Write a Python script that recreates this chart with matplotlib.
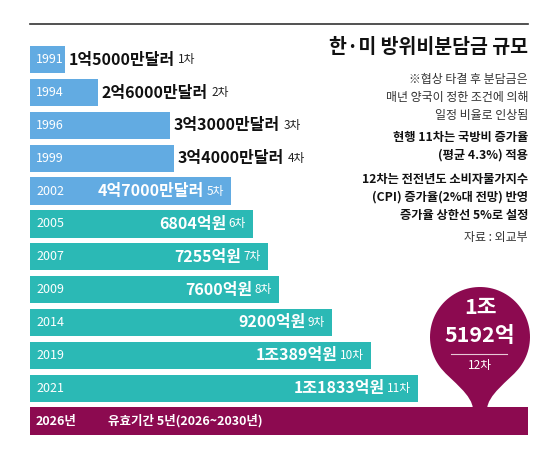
import numpy as np
import matplotlib.pyplot as plt
from matplotlib.path import Path
from matplotlib.patches import PathPatch

plt.rcParams['font.family'] = ['Noto Sans CJK KR', 'DejaVu Sans']

### data
years = ['1991', '1994', '1996', '1999', '2002', '2005', '2007', '2009',
         '2014', '2019', '2021', '2026년']
amounts = ['1억5000만달러', '2억6000만달러', '3억3000만달러', '3억4000만달러',
           '4억7000만달러', '6804억원', '7255억원', '7600억원', '9200억원',
           '1조389억원', '1조1833억원', '']
rounds = ['1차', '2차', '3차', '4차', '5차', '6차', '7차', '8차', '9차',
          '10차', '11차', '12차']
# bar length in 억원 (dollar-era bars)
bar_len = [1070, 2070, 4270, 4390, 6130, 6804, 7255, 7600, 9200,
           10389, 11833, 15192]

title = '한·미 방위비분담금 규모'
note_lines = ['※협상 타결 후 분담금은', '매년 양국이 정한 조건에 의해', '일정 비율로 인상됨']
bold_lines = ['현행 11차는 국방비 증가율', '(평균 4.3%) 적용',
              '12차는 전전년도 소비자물가지수', '(CPI) 증가율(2%대 전망) 반영',
              '증가율 상한선 5%로 설정']
source = '자료 : 외교부'
period = '유효기간 5년(2026~2030년)'
pin_top, pin_mid = '1조', '5192억'

blue = '#62ABE2'
teal = '#2BB9B5'
maroon = '#8C0A50'
colors = [blue] * 5 + [teal] * 6 + [maroon]
HEAVY = 900

fig = plt.figure(figsize=(5.59, 4.68), dpi=100)

# bars: x in 억원, y in rows
ax = fig.add_axes([0, 0, 1, 1])
ax.set_xlim(-30 * 30.5, 529 * 30.5)
ax.set_ylim(12.43, -1.817)
ax.axis('off')

y = np.arange(len(years))
ax.barh(y, bar_len, height=0.83, color=colors)

for i in range(len(years)):
    last = i == len(years) - 1
    ax.annotate(years[i], xy=(0, i), xytext=(6, 0), textcoords='offset pixels',
                ha='left', va='center', color='white', fontsize=9,
                weight='bold' if last else 'light')
    if last:
        continue
    if i >= 4:
        suf = ax.annotate(rounds[i], xy=(bar_len[i], i), xytext=(-7, 0),
                          textcoords='offset pixels', ha='right', va='center',
                          color='white', fontsize=8.5)
        ax.annotate(amounts[i], xy=(0, 0.5), xycoords=suf, xytext=(-2, 0),
                    textcoords='offset pixels', ha='right', va='center',
                    color='white', fontsize=11.5, weight=HEAVY)
    else:
        amt = ax.annotate(amounts[i], xy=(bar_len[i], i), xytext=(4, 0),
                          textcoords='offset pixels', ha='left', va='center',
                          color='#111111', fontsize=11.5, weight=HEAVY)
        ax.annotate(rounds[i], xy=(1, 0.5), xycoords=amt, xytext=(3, 0),
                    textcoords='offset pixels', ha='left', va='center',
                    color='#222222', fontsize=8.5)

ax.annotate(period, xy=(0, 11), xytext=(78, 0), textcoords='offset pixels',
            ha='left', va='center', color='white', fontsize=9, weight='bold')

# overlay in pixel units for the callout and the side notes
ax2 = fig.add_axes([0, 0, 1, 1])
ax2.set_xlim(0, 559)
ax2.set_ylim(468, 0)
ax2.axis('off')
ax2.patch.set_visible(False)

ax2.plot([30, 528], [24, 24], color='#333333', lw=1.2)

ax2.text(528, 47, title, ha='right', va='center', fontsize=14,
         weight=HEAVY, color='#111111')
for s, yy in zip(note_lines, [79, 97, 115]):
    ax2.text(528, yy, s, ha='right', va='center', fontsize=8.6, color='#333333')
for s, yy in zip(bold_lines, [138, 155, 179, 197, 215]):
    ax2.text(528, yy, s, ha='right', va='center', fontsize=8.8,
             weight='bold', color='#111111')
ax2.text(528, 238, source, ha='right', va='center', fontsize=8.6, color='#333333')

# pin callout
cx, cy, r = 480, 337, 50
th = np.radians(np.linspace(140, 400, 80))
arc = np.column_stack([cx + r * np.cos(th), cy + r * np.sin(th)])
verts = list(map(tuple, arc))
codes = [Path.MOVETO] + [Path.LINETO] * (len(verts) - 1)
verts += [(508.7, 380.6), (487, 395), (487, 410), (473, 410),
          (473, 395), (451.3, 380.6), (441.7, 369.1), (0, 0)]
codes += [Path.CURVE4] * 3 + [Path.LINETO] + [Path.CURVE4] * 3 + [Path.CLOSEPOLY]
ax2.add_patch(PathPatch(Path(verts, codes), facecolor=maroon, edgecolor='none'))

ax2.text(cx, 307, pin_top, ha='center', va='center', fontsize=15.5,
         weight=HEAVY, color='white')
ax2.text(cx, 336, pin_mid, ha='center', va='center', fontsize=15.5,
         weight=HEAVY, color='white')
ax2.plot([451, 507], [354, 354], color='#E8C8D6', lw=0.8)
ax2.text(cx, 365, rounds[-1], ha='center', va='center', fontsize=8.5,
         color='white')

fig.savefig('out.png', dpi=100)
